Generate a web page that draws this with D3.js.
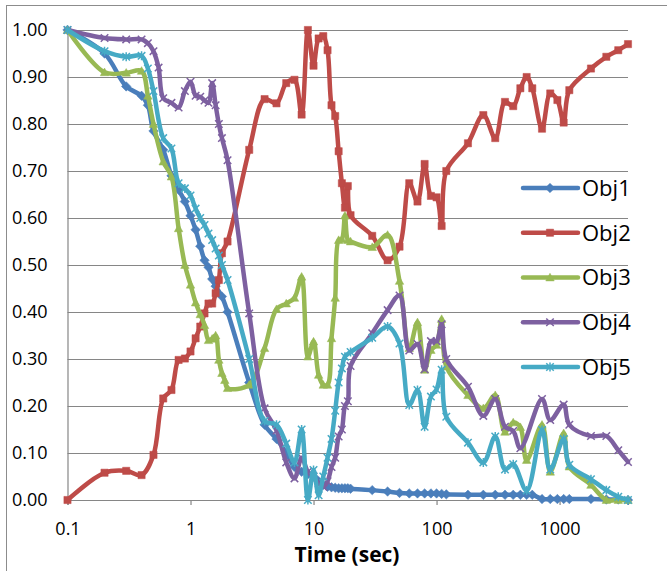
<!DOCTYPE html>
<html>
<head>
<meta charset="utf-8">
<script src="https://cdn.jsdelivr.net/npm/d3@7"></script>
<style>
  body { margin: 0; background: #fff; }
  svg { display: block; font-family: "Open Sans", "Liberation Sans", sans-serif; }
</style>
</head>
<body>
<div id="chart"></div>
<script>
const seriesNames = ["Obj1", "Obj2", "Obj3", "Obj4", "Obj5"];
const xTickValues = [0.1, 1, 10, 100, 1000];
const xTickLabels = ["0.1", "1", "10", "100", "1000"];
const yTickValues = [0, 0.1, 0.2, 0.3, 0.4, 0.5, 0.6, 0.7, 0.8, 0.9, 1.0];
const yTickLabels = ["0.00", "0.10", "0.20", "0.30", "0.40", "0.50", "0.60", "0.70", "0.80", "0.90", "1.00"];

const obj1Time = [0.1, 0.2, 0.3, 0.4, 0.45, 0.5, 0.6, 0.7, 0.8, 0.9, 1.0, 1.1, 1.2, 1.3, 1.4, 1.5, 1.6, 1.8, 2,
  3, 4, 5, 6, 7, 8, 9, 10, 11, 12, 13, 14, 15, 16, 17, 18, 19, 20, 30, 40, 50, 60, 70, 80, 90, 100, 110, 120,
  180, 240, 300, 360, 420, 480, 540, 600, 720, 840, 960, 1080, 1200, 1800, 2400, 3000, 3600];
const obj1Vals = [1.0, 0.95, 0.88, 0.86, 0.84, 0.785, 0.745, 0.69, 0.66, 0.635, 0.605, 0.575, 0.54, 0.51, 0.495, 0.47, 0.455, 0.433, 0.40,
  0.25, 0.16, 0.13, 0.10, 0.07, 0.06, 0.055, 0.05, 0.04, 0.032, 0.028, 0.027, 0.026, 0.025, 0.025, 0.025, 0.025, 0.024, 0.021, 0.018, 0.015, 0.014, 0.014, 0.014, 0.014, 0.014, 0.013, 0.012,
  0.011, 0.011, 0.011, 0.011, 0.011, 0.011, 0.011, 0.011, 0.002, 0.002, 0.002, 0.002, 0.002, 0.002, 0.001, 0.001, 0.0];

const obj2Time = [0.1, 0.2, 0.3, 0.4, 0.5, 0.6, 0.7, 0.8, 0.9, 1.0, 1.1, 1.2, 1.3, 1.4, 1.5, 1.6, 1.7, 1.8, 2,
  3, 4, 5, 6, 7, 8, 9, 10, 11, 12, 13, 14, 15, 16, 17, 18, 19, 20, 30, 40, 50, 60, 70, 80, 90, 100, 110, 120,
  180, 240, 300, 360, 420, 480, 540, 600, 720, 840, 960, 1080, 1200, 1800, 2400, 3000, 3600];
const obj2Vals = [0.0, 0.058, 0.062, 0.053, 0.096, 0.216, 0.234, 0.298, 0.301, 0.316, 0.344, 0.369, 0.397, 0.418, 0.418, 0.44, 0.468, 0.525, 0.55,
  0.745, 0.853, 0.844, 0.887, 0.894, 0.82, 1.0, 0.924, 0.982, 0.987, 0.957, 0.84, 0.817, 0.742, 0.674, 0.622, 0.668, 0.606, 0.562, 0.51, 0.539, 0.674, 0.635, 0.715, 0.647, 0.644, 0.583, 0.70,
  0.759, 0.819, 0.77, 0.847, 0.838, 0.876, 0.90, 0.876, 0.79, 0.865, 0.851, 0.803, 0.872, 0.918, 0.943, 0.957, 0.97];

const obj3Time = [0.1, 0.2, 0.3, 0.4, 0.45, 0.5, 0.6, 0.7, 0.8, 0.9, 1.0, 1.1, 1.2, 1.3, 1.4, 1.5, 1.6, 1.7, 1.8, 1.9, 2,
  3, 4, 5, 6, 7, 8, 9, 10, 11, 12, 13, 14, 15, 16, 17, 18, 19, 20, 30, 40, 50, 60, 70, 80, 90, 100, 110, 120,
  180, 240, 300, 360, 420, 480, 540, 720, 840, 1080, 1200, 1800, 2400, 3000, 3600];
const obj3Vals = [1.0, 0.91, 0.909, 0.913, 0.86, 0.80, 0.72, 0.688, 0.578, 0.50, 0.458, 0.42, 0.395, 0.372, 0.34, 0.343, 0.35, 0.298, 0.27, 0.255, 0.238,
  0.245, 0.323, 0.406, 0.418, 0.43, 0.475, 0.305, 0.337, 0.266, 0.245, 0.245, 0.344, 0.43, 0.553, 0.555, 0.605, 0.553, 0.55, 0.538, 0.564, 0.466, 0.323, 0.378, 0.277, 0.319, 0.33, 0.385, 0.284,
  0.223, 0.195, 0.223, 0.145, 0.165, 0.155, 0.085, 0.16, 0.06, 0.142, 0.071, 0.032, 0.0, 0.0, 0.0];

const obj4Time = [0.1, 0.2, 0.3, 0.4, 0.45, 0.5, 0.55, 0.6, 0.7, 0.8, 0.9, 1.0, 1.1, 1.2, 1.3, 1.4, 1.5, 1.6, 1.7, 1.8, 2,
  3, 4, 5, 6, 7, 8, 9, 10, 11, 12, 13, 14, 15, 16, 17, 18, 19, 20, 30, 40, 50, 60, 70, 80, 90, 100, 110, 120,
  180, 240, 300, 360, 420, 480, 720, 840, 1080, 1200, 1800, 2400, 3000, 3600];
const obj4Vals = [1.0, 0.983, 0.98, 0.98, 0.972, 0.955, 0.92, 0.855, 0.845, 0.835, 0.87, 0.89, 0.86, 0.858, 0.85, 0.845, 0.887, 0.84, 0.80, 0.77, 0.723,
  0.397, 0.195, 0.148, 0.08, 0.046, 0.09, 0.06, 0.05, 0.035, 0.028, 0.04, 0.07, 0.09, 0.135, 0.15, 0.20, 0.21, 0.285, 0.355, 0.404, 0.435, 0.318, 0.332, 0.278, 0.338, 0.338, 0.374, 0.30,
  0.241, 0.179, 0.215, 0.156, 0.147, 0.11, 0.215, 0.17, 0.203, 0.16, 0.136, 0.136, 0.106, 0.081];

const obj5Time = [0.1, 0.2, 0.3, 0.4, 0.45, 0.5, 0.6, 0.7, 0.8, 0.9, 1.0, 1.1, 1.2, 1.3, 1.4, 1.5, 1.6, 1.7, 1.8, 2,
  3, 4, 5, 6, 7, 8, 9, 10, 11, 12, 13, 14, 15, 16, 17, 18, 20, 30, 40, 50, 60, 70, 80, 90, 100, 110, 120,
  180, 240, 300, 360, 420, 540, 720, 840, 1080, 1200, 1800, 2400, 3000, 3600];
const obj5Vals = [1.0, 0.955, 0.943, 0.945, 0.918, 0.87, 0.77, 0.748, 0.674, 0.663, 0.648, 0.62, 0.60, 0.585, 0.567, 0.553, 0.535, 0.52, 0.50, 0.468,
  0.30, 0.168, 0.16, 0.12, 0.08, 0.15, 0.0, 0.064, 0.01, 0.05, 0.09, 0.13, 0.19, 0.25, 0.28, 0.305, 0.315, 0.345, 0.369, 0.333, 0.202, 0.234, 0.156, 0.22, 0.235, 0.277, 0.177,
  0.122, 0.08, 0.135, 0.065, 0.076, 0.02, 0.149, 0.065, 0.13, 0.075, 0.044, 0.021, 0.007, 0.0];

const colors = ["#4A7EBB", "#BE4B48", "#98B954", "#7D60A0", "#46AAC5"];

const w = 667;
const h = 571;
const plotLeft = 67.5;
const plotRight = 628;
const plotTop = 30;
const plotBottom = 500;

const series = [
  { name: seriesNames[0], time: obj1Time, vals: obj1Vals },
  { name: seriesNames[1], time: obj2Time, vals: obj2Vals },
  { name: seriesNames[2], time: obj3Time, vals: obj3Vals },
  { name: seriesNames[3], time: obj4Time, vals: obj4Vals },
  { name: seriesNames[4], time: obj5Time, vals: obj5Vals }
].map(function(s, i) {
  return {
    name: s.name,
    color: colors[i],
    values: s.time.map(function(t, j) { return { time: t, value: s.vals[j] }; })
  };
});

/* MARKERS */
const diamond = { draw: function(c, size) { const r = Math.sqrt(size) / 2; c.moveTo(0, -r); c.lineTo(r, 0); c.lineTo(0, r); c.lineTo(-r, 0); c.closePath(); } };
const square = { draw: function(c, size) { const r = Math.sqrt(size) / 2; c.rect(-r, -r, 2 * r, 2 * r); } };
const triangle = { draw: function(c, size) { const r = Math.sqrt(size) / 2; c.moveTo(0, -r); c.lineTo(r, r * 0.8); c.lineTo(-r, r * 0.8); c.closePath(); } };
const cross = { draw: function(c, size) { const r = Math.sqrt(size) / 2; c.moveTo(-r, -r); c.lineTo(r, r); c.moveTo(r, -r); c.lineTo(-r, r); } };
const star = { draw: function(c, size) { const r = Math.sqrt(size) / 2; c.moveTo(-r, -r); c.lineTo(r, r); c.moveTo(r, -r); c.lineTo(-r, r); c.moveTo(0, -r * 1.2); c.lineTo(0, r * 1.2); } };
const markerTypes = [
  { type: diamond, size: 90, filled: true },
  { type: square, size: 52, filled: true },
  { type: triangle, size: 72, filled: true },
  { type: cross, size: 56, filled: false },
  { type: star, size: 56, filled: false }
];

/* SCALES */
const xScale = d3.scaleLog().domain([0.1, 3600]).range([plotLeft, plotRight]);
const yScale = d3.scaleLinear().domain([0, 1]).range([plotBottom, plotTop]);

const svg = d3.select("#chart").append("svg")
  .attr("width", w)
  .attr("height", h);

// chart border
svg.append("rect")
  .attr("x", 6.5).attr("y", 5.5)
  .attr("width", 700).attr("height", 620)
  .attr("fill", "none")
  .attr("stroke", "#8c8c8c")
  .attr("stroke-width", 1);

// gridlines
svg.append("g")
  .attr("transform", "translate(" + plotLeft + ",0)")
  .call(d3.axisLeft(yScale).tickValues(yTickValues).tickSize(-(plotRight - plotLeft)).tickFormat(""))
  .call(function(g) { g.select(".domain").remove(); })
  .selectAll("line")
  .attr("stroke", "#868686")
  .attr("stroke-width", 1.2);

/* AXES */
const yAxis = svg.append("g")
  .attr("transform", "translate(" + plotLeft + ",0)")
  .call(d3.axisLeft(yScale).tickValues(yTickValues).tickSize(0).tickPadding(20)
    .tickFormat(function(d, i) { return yTickLabels[i]; }));
yAxis.select(".domain").attr("stroke", "#868686").attr("stroke-width", 1.2);
yAxis.selectAll("text").attr("font-size", 18).attr("fill", "#000")
  .attr("font-family", "'Open Sans', sans-serif");

const xAxis = svg.append("g")
  .attr("transform", "translate(0," + plotBottom + ")")
  .call(d3.axisBottom(xScale).tickValues(xTickValues).tickSize(5).tickPadding(17)
    .tickFormat(function(d, i) { return xTickLabels[i]; }));
xAxis.select(".domain").attr("stroke", "#868686").attr("stroke-width", 1.2);
xAxis.selectAll("line").attr("stroke", "#868686").attr("stroke-width", 1.2);
xAxis.selectAll("text").attr("font-size", 18).attr("fill", "#000")
  .attr("font-family", "'Open Sans', sans-serif");

/* LINES */
const line = d3.line()
  .x(function(d) { return xScale(d.time); })
  .y(function(d) { return yScale(d.value); })
  .curve(d3.curveCatmullRom.alpha(0.5));

const groups = svg.selectAll(".series")
  .data(series)
  .enter()
  .append("g")
  .attr("class", "series");

groups.each(function(s, i) {
  const g = d3.select(this);
  const m = markerTypes[i];
  g.append("path")
    .attr("d", line(s.values))
    .attr("fill", "none")
    .attr("stroke", s.color)
    .attr("stroke-width", 4.5)
    .attr("stroke-linejoin", "round")
    .attr("stroke-linecap", "round");
  g.selectAll(".pt")
    .data(s.values)
    .enter()
    .append("path")
    .attr("transform", function(d) { return "translate(" + xScale(d.time) + "," + yScale(d.value) + ")"; })
    .attr("d", d3.symbol().type(m.type).size(m.size))
    .attr("fill", m.filled ? s.color : "none")
    .attr("stroke", s.color)
    .attr("stroke-width", m.filled ? 0.5 : 1.5);
});

/* LEGEND */
const legendY = d3.scalePoint().domain(seriesNames).range([188, 367]);
const legend = svg.append("g");
seriesNames.forEach(function(name, i) {
  const y = legendY(name);
  const m = markerTypes[i];
  legend.append("line")
    .attr("x1", 523).attr("x2", 578)
    .attr("y1", y).attr("y2", y)
    .attr("stroke", colors[i])
    .attr("stroke-width", 4.5)
    .attr("stroke-linecap", "round");
  legend.append("path")
    .attr("transform", "translate(550," + y + ")")
    .attr("d", d3.symbol().type(m.type).size(m.size))
    .attr("fill", m.filled ? colors[i] : "none")
    .attr("stroke", colors[i])
    .attr("stroke-width", m.filled ? 0.5 : 1.5);
  legend.append("text")
    .attr("x", 582)
    .attr("y", y)
    .attr("dy", "0.36em")
    .attr("font-size", 22)
    .attr("fill", "#000")
    .text(name);
});

/* TITLE */
svg.append("text")
  .attr("x", 347)
  .attr("y", 562)
  .attr("text-anchor", "middle")
  .attr("font-size", 21)
  .attr("font-weight", "bold")
  .attr("fill", "#000")
  .text("Time (sec)");
</script>
</body>
</html>
